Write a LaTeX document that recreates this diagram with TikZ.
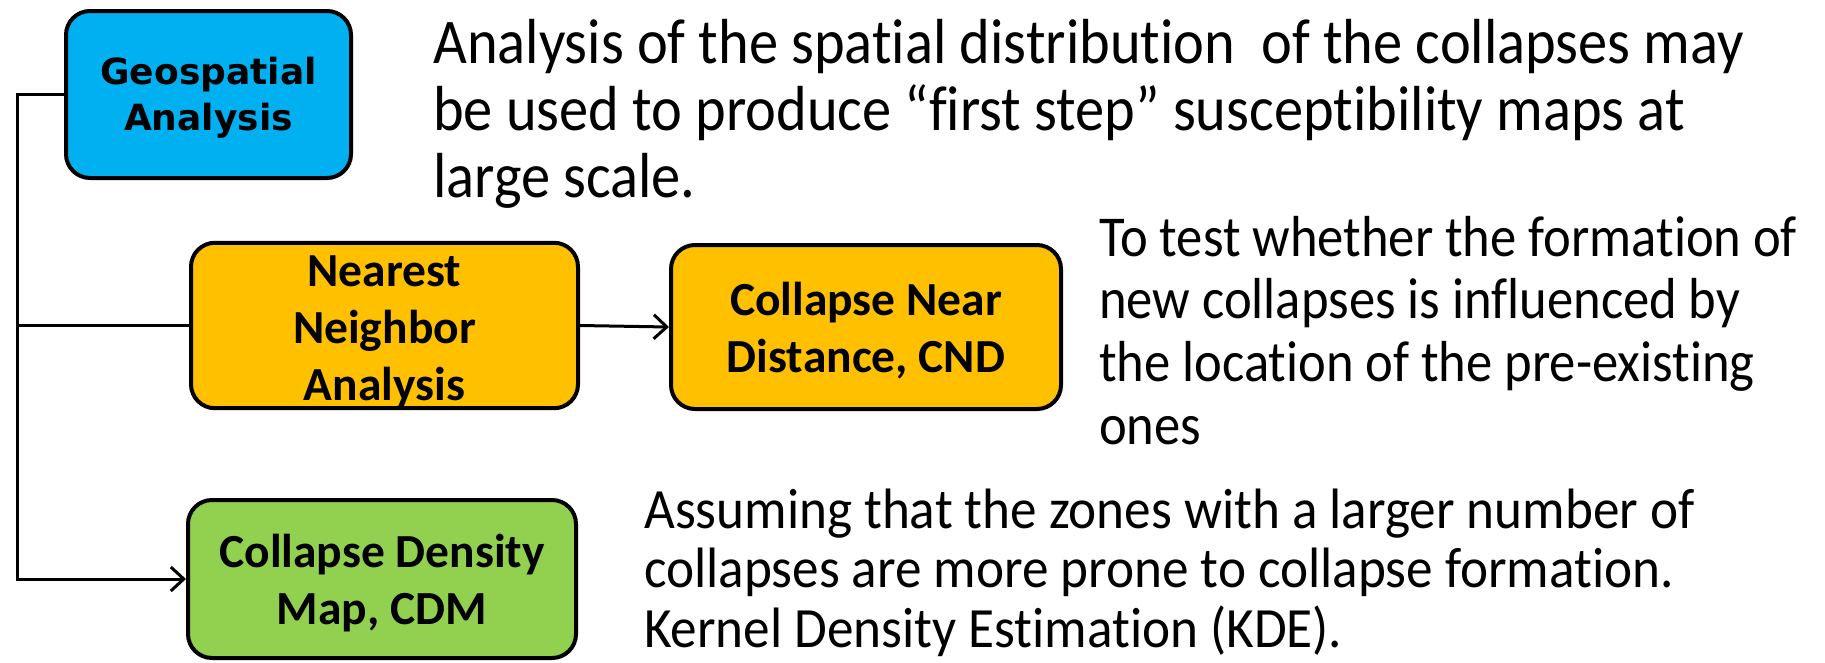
\documentclass[tikz,border=0pt]{standalone}
\usepackage{fontspec}
\setmainfont{Carlito}[Ligatures=NoCommon]
\newfontfamily\verd{DejaVu Sans}
\usetikzlibrary{arrows.meta}
\definecolor{geoblue}{HTML}{00B0F0}
\definecolor{orng}{HTML}{FFC000}
\definecolor{grn}{HTML}{92D050}
\begin{document}
\begin{tikzpicture}[x=1pt,y=-1pt,
  box/.style={draw=black, line width=4pt, rounded corners=24pt, inner sep=0pt, align=center},
  boxtxt/.style={font=\bfseries\fontsize{47.5}{57}\selectfont},
  conn/.style={line width=3pt},
  arr/.style={conn, -{Straight Barb[length=13pt,width=24pt,line width=3pt]}},
  desc/.style={anchor=base west, inner sep=0pt}
]
\useasboundingbox (0,0) rectangle (1825,662);
\coordinate (rail) at (17,0);

\node[box, fill=geoblue, minimum width=285pt, minimum height=167pt,
      font=\verd\bfseries\fontsize{36}{46}\selectfont] (geo) at (208.5,94.5) {\rule{0pt}{34pt}Geospatial\\Analysis};
\node[box, boxtxt, fill=orng, minimum width=387pt, minimum height=165pt] (nn) at (384.5,325.5) {\rule{0pt}{44pt}Nearest\\Neighbor\\Analysis};
\node[box, boxtxt, fill=orng, minimum width=390pt, minimum height=164pt] (cnd) at (866,327) {\rule{0pt}{41pt}Collapse Near\\Distance, CND};
\node[box, boxtxt, fill=grn, minimum width=388pt, minimum height=158pt] (cdm) at (382,579) {\rule{0pt}{41pt}Collapse Density\\Map, CDM};

\draw[arr] (geo.west) -- (geo.west -| rail) |- (cdm.west);
\draw[conn] (nn.west -| rail) -- (nn.west);
\draw[arr] (nn.east) -- (cnd.west);

\node[desc] (t1) at (433,63) {\scalebox{1}[1.09]{\parbox[t]{1400pt}{\raggedright\fontsize{58.4}{61.5}\selectfont
  Analysis of the spatial distribution\ \ of the collapses may\\
  be used to produce “first step” susceptibility maps at\\
  large scale.}}};
\node[desc] (t2) at (1099,256) {\scalebox{1}[1.1]{\parbox[t]{720pt}{\raggedright\fontsize{52.6}{57}\selectfont
  To test whether the formation of\\
  new collapses is influenced by\\
  the location of the pre-existing\\
  ones}}};
\node[desc] (t3) at (644,528) {\scalebox{1}[1.07]{\parbox[t]{1150pt}{\raggedright\fontsize{53.2}{56}\selectfont
  Assuming that the zones with a larger number of\\
  collapses are more prone to collapse formation.\\
  Kernel Density Estimation (KDE).}}};
\end{tikzpicture}
\end{document}
